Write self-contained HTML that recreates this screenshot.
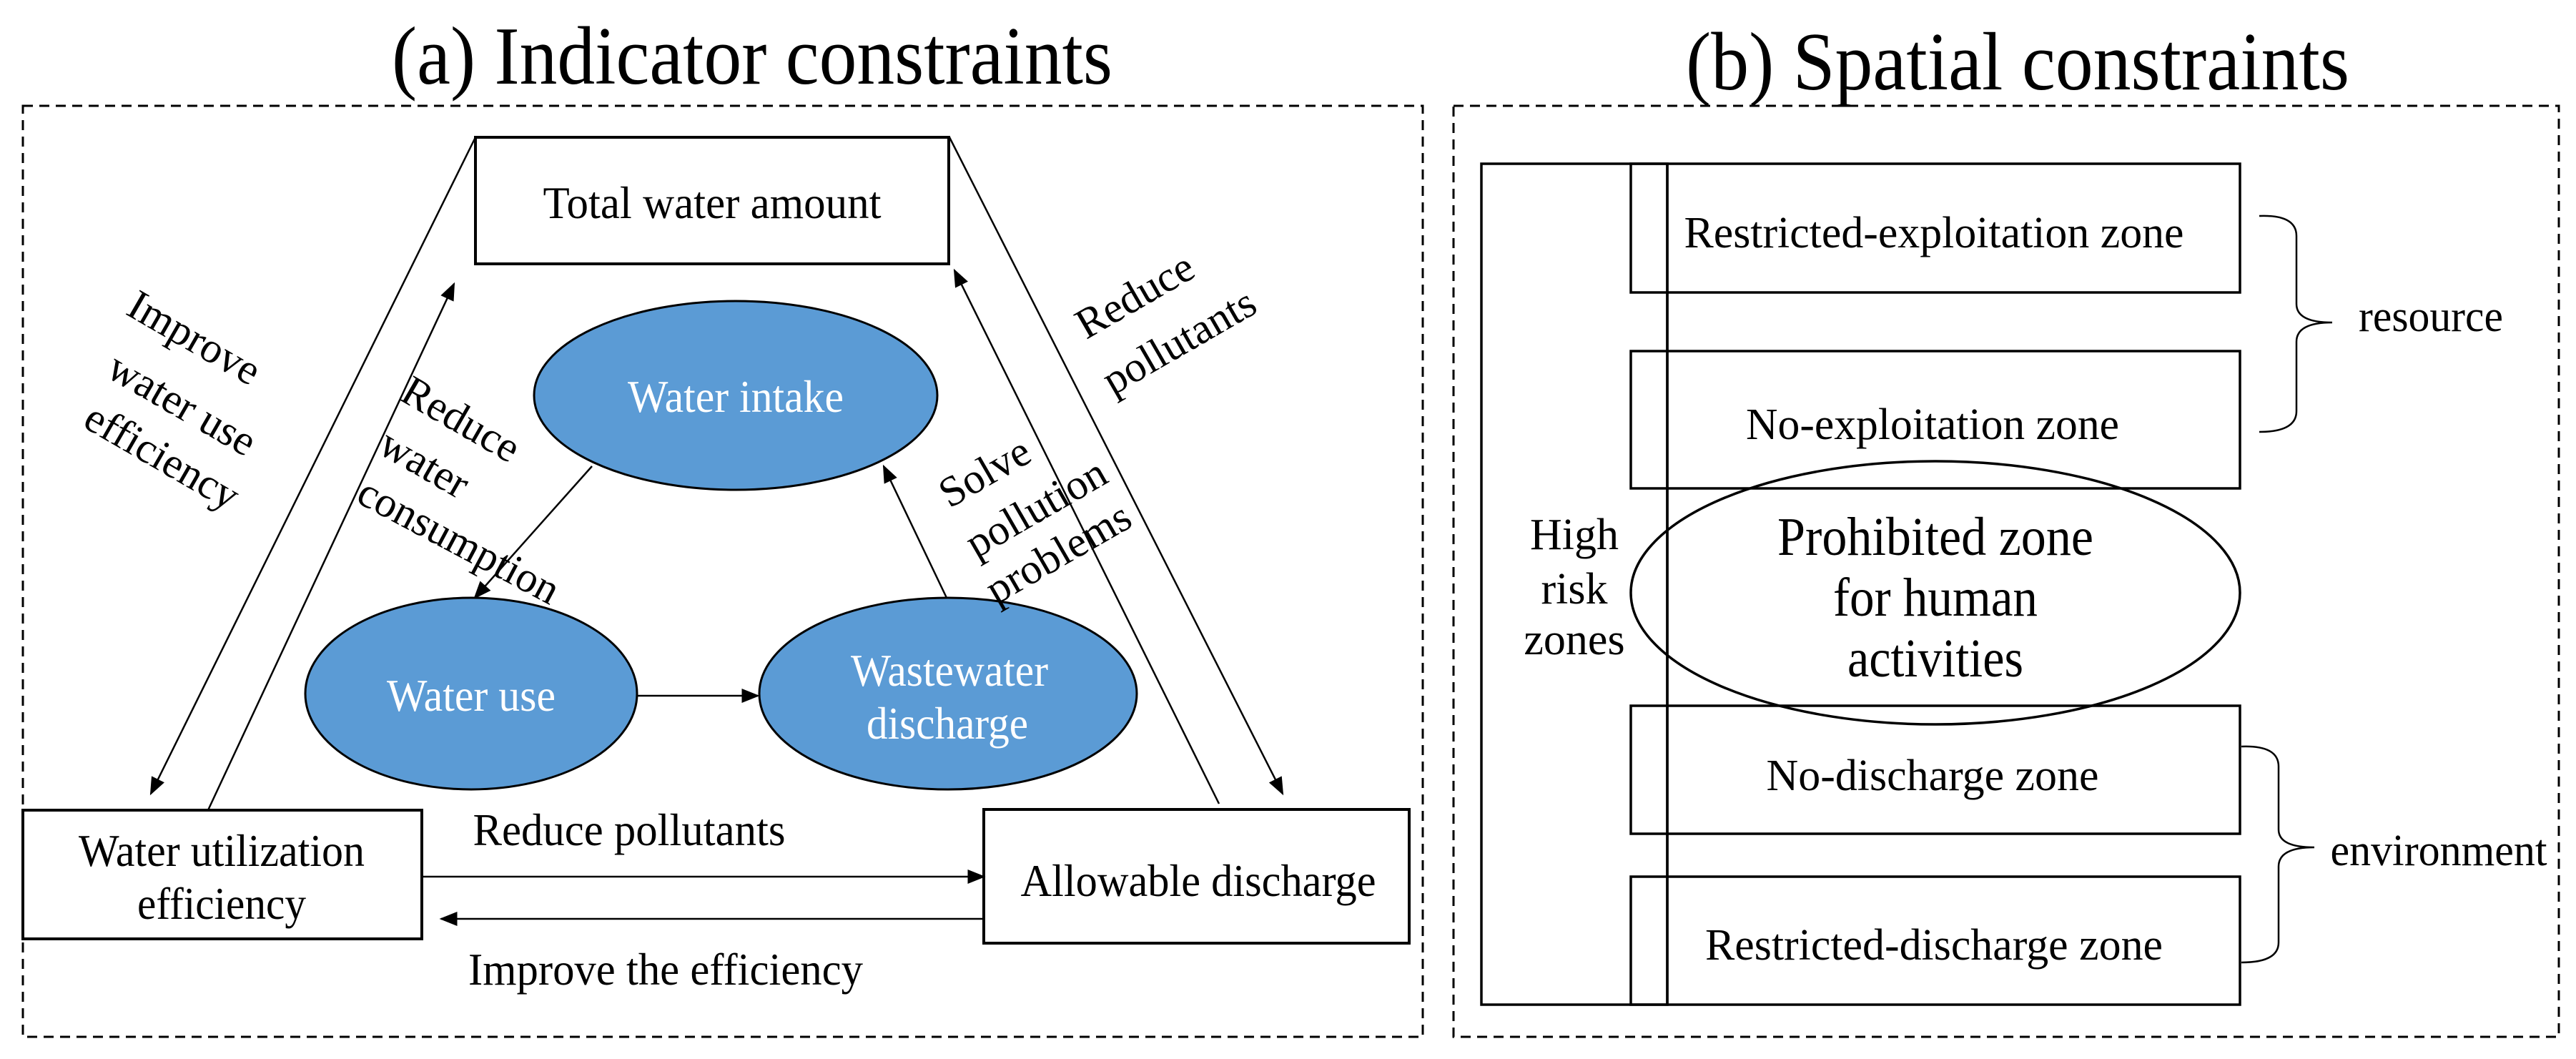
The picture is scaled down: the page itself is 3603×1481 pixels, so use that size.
<!DOCTYPE html>
<html><head><meta charset="utf-8"><style>html,body{margin:0;padding:0;background:#fff}svg{display:block}</style></head>
<body>
<svg xmlns="http://www.w3.org/2000/svg" width="3603" height="1481" viewBox="0 0 3603 1481" font-family="'Liberation Serif', serif" fill="#000">
<defs>
<marker id="b" viewBox="0 0 10 8" refX="9" refY="4" markerWidth="26" markerHeight="20" orient="auto" markerUnits="userSpaceOnUse"><path d="M0,0 L10,4 L0,8 z" fill="#000"/></marker>
</defs>
<!-- titles -->
<text x="1052" y="117" font-size="116" text-anchor="middle" textLength="1008" lengthAdjust="spacingAndGlyphs">(a) Indicator constraints</text>
<text x="2822" y="125" font-size="116" text-anchor="middle" textLength="928" lengthAdjust="spacingAndGlyphs">(b) Spatial constraints</text>
<!-- dashed boxes -->
<rect x="32" y="148" width="1958" height="1302" fill="none" stroke="#000" stroke-width="3" stroke-dasharray="14 9"/>
<rect x="2033" y="148" width="1546" height="1302" fill="none" stroke="#000" stroke-width="3" stroke-dasharray="14 9"/>

<!-- panel a -->
<g fill="none" stroke="#000" stroke-width="2.5">
<rect x="665" y="192" width="662" height="177" stroke-width="4"/>
<rect x="32" y="1133" width="558" height="180" stroke-width="4"/>
<rect x="1376" y="1132" width="595" height="187" stroke-width="4"/>
<line x1="665" y1="192" x2="211" y2="1110" marker-end="url(#b)"/>
<line x1="291" y1="1133" x2="635" y2="397" marker-end="url(#b)"/>
<line x1="1328" y1="192" x2="1794" y2="1110" marker-end="url(#b)"/>
<line x1="1705" y1="1124" x2="1335" y2="378" marker-end="url(#b)"/>
<line x1="590" y1="1226" x2="1376" y2="1226" marker-end="url(#b)"/>
<line x1="1376" y1="1285" x2="617" y2="1285" marker-end="url(#b)"/>
<line x1="890" y1="973" x2="1060" y2="973" marker-end="url(#b)"/>
<line x1="828" y1="652" x2="664" y2="836" marker-end="url(#b)"/>
<line x1="1324" y1="836" x2="1236" y2="652" marker-end="url(#b)"/>
</g>
<g fill="#5B9BD5" stroke="#000" stroke-width="3">
<ellipse cx="1029" cy="553" rx="282" ry="132"/>
<ellipse cx="659" cy="970" rx="232" ry="134"/>
<ellipse cx="1326" cy="970" rx="264" ry="134"/>
</g>
<g font-size="64" text-anchor="middle" lengthAdjust="spacingAndGlyphs">
<text x="996" y="305" textLength="473" lengthAdjust="spacingAndGlyphs">Total water amount</text>
<text x="310" y="1211" textLength="400" lengthAdjust="spacingAndGlyphs">Water utilization</text>
<text x="310" y="1285" textLength="236" lengthAdjust="spacingAndGlyphs">efficiency</text>
<text x="1676" y="1253" textLength="497" lengthAdjust="spacingAndGlyphs">Allowable discharge</text>
<text x="880" y="1182" textLength="437" lengthAdjust="spacingAndGlyphs">Reduce pollutants</text>
<text x="931" y="1377" textLength="552" lengthAdjust="spacingAndGlyphs">Improve the efficiency</text>
<g fill="#fff">
<text x="1029" y="576" textLength="302" lengthAdjust="spacingAndGlyphs">Water intake</text>
<text x="659" y="994" textLength="236" lengthAdjust="spacingAndGlyphs">Water use</text>
<text x="1328" y="959" textLength="276" lengthAdjust="spacingAndGlyphs">Wastewater</text>
<text x="1325" y="1033" textLength="226" lengthAdjust="spacingAndGlyphs">discharge</text>
</g>
<g font-size="60">
<g transform="translate(272,472) rotate(30)"><text y="20">Improve</text></g>
<g transform="translate(255,565) rotate(30)"><text y="20">water use</text></g>
<g transform="translate(227,638) rotate(30)"><text y="20">efficiency</text></g>
<g transform="translate(645,586) rotate(30)"><text y="20">Reduce</text></g>
<g transform="translate(594,648) rotate(30)"><text y="20">water</text></g>
<g transform="translate(642,756) rotate(28)"><text y="20">consumption</text></g>
<g transform="translate(1587,413) rotate(-30)"><text y="20">Reduce</text></g>
<g transform="translate(1649,477) rotate(-30)"><text y="20">pollutants</text></g>
<g transform="translate(1377,660) rotate(-30)"><text y="20">Solve</text></g>
<g transform="translate(1449,710) rotate(-30)"><text y="20">pollution</text></g>
<g transform="translate(1480,773) rotate(-30)"><text y="20">problems</text></g>
</g>
</g>

<!-- panel b -->
<g fill="none" stroke="#000" stroke-width="3.5">
<rect x="2072" y="229" width="260" height="1176"/>
<rect x="2281" y="229" width="852" height="180"/>
<rect x="2281" y="491" width="852" height="192"/>
<rect x="2281" y="987" width="852" height="179"/>
<rect x="2281" y="1226" width="852" height="179"/>
<line x1="2332" y1="229" x2="2332" y2="1405"/>
<ellipse cx="2707" cy="829" rx="426" ry="184"/>
<path d="M3160,302 Q3212,300 3212,330 L3212,425 Q3212,451 3262,451 Q3212,451 3212,478 L3212,575 Q3212,604 3160,604" stroke-width="2.5"/>
<path d="M3135,1044 Q3187,1042 3187,1072 L3187,1160 Q3187,1185 3237,1185 Q3187,1185 3187,1212 L3187,1318 Q3187,1346 3135,1346" stroke-width="2.5"/>
</g>
<g font-size="62" text-anchor="middle">
<text x="2705" y="346" textLength="699" lengthAdjust="spacingAndGlyphs">Restricted-exploitation zone</text>
<text x="2703" y="614" textLength="522" lengthAdjust="spacingAndGlyphs">No-exploitation zone</text>
<text x="2703" y="1105" textLength="465" lengthAdjust="spacingAndGlyphs">No-discharge zone</text>
<text x="2705" y="1342" textLength="640" lengthAdjust="spacingAndGlyphs">Restricted-discharge zone</text>
<text x="3400" y="463" textLength="202" lengthAdjust="spacingAndGlyphs">resource</text>
<text x="3411" y="1210" textLength="303" lengthAdjust="spacingAndGlyphs">environment</text>
<text x="2202" y="768">High</text>
<text x="2202" y="844">risk</text>
<text x="2202" y="915">zones</text>
</g>
<g font-size="76" text-anchor="middle">
<text x="2707" y="776" textLength="442" lengthAdjust="spacingAndGlyphs">Prohibited zone</text>
<text x="2707" y="861" textLength="286" lengthAdjust="spacingAndGlyphs">for human</text>
<text x="2707" y="946" textLength="246" lengthAdjust="spacingAndGlyphs">activities</text>
</g>
</svg>
</body></html>
